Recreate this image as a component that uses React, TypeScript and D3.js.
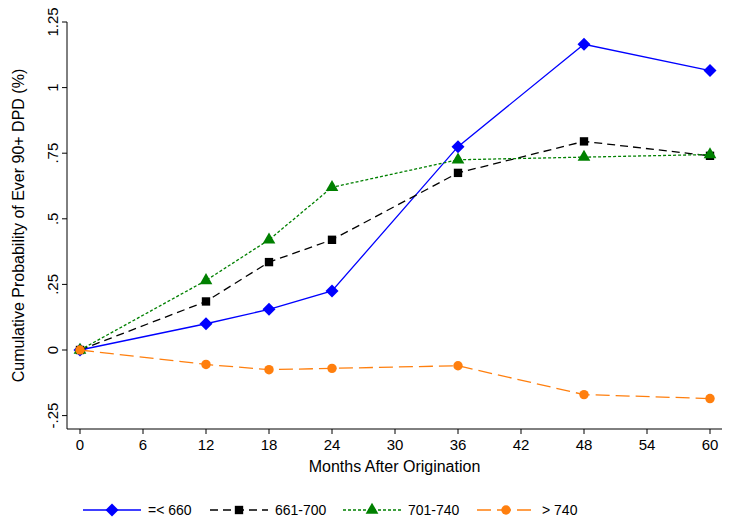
import * as d3 from "d3";

const months = [0, 12, 18, 24, 36, 48, 60];
const seriesNames = ["=< 660", "661-700", "701-740", "> 740"];
const s660 = [0, 0.1, 0.155, 0.225, 0.775, 1.165, 1.065];
const s700 = [0, 0.185, 0.335, 0.42, 0.675, 0.795, 0.74];
const s740 = [0, 0.265, 0.42, 0.62, 0.725, 0.735, 0.745];
const sOver = [0, -0.055, -0.075, -0.07, -0.06, -0.17, -0.185];
const xTicks = [0, 6, 12, 18, 24, 30, 36, 42, 48, 54, 60];
const yTicks = [-0.25, 0, 0.25, 0.5, 0.75, 1, 1.25];
const yLabels = ["-.25", "0", ".25", ".5", ".75", "1", "1.25"];

const colors = ["#0000ff", "#000000", "#008000", "#ff7f0e"];
const dashes = ["", "8,5", "3,2", "14,6"];
const markers = ["diamond", "square", "triangle", "circle"];
const allSeries = [s660, s700, s740, sOver];

function Marker({ type, x, y, color }: { type: string; x: number; y: number; color: string }) {
  if (type === "diamond") {
    return <path d="M0,-6.5L6.5,0L0,6.5L-6.5,0Z" transform={`translate(${x},${y})`} fill={color} />;
  }
  const sym = type === "square" ? d3.symbolSquare : type === "triangle" ? d3.symbolTriangle : d3.symbolCircle;
  return <path d={d3.symbol(sym, 70)() as string} transform={`translate(${x},${y})`} fill={color} />;
}

export default function App() {
  const x = d3.scaleLinear().domain([0, 60]).range([80, 710]);
  const y = d3.scaleLinear().domain([0, 1.25]).range([350, 22]);
  const left = 67, bottom = 429;
  const line = d3.line<number>().x((_, i) => x(months[i])).y((d) => y(d));
  const font = "Liberation Sans, Arial, sans-serif";
  const legX = [83, 210, 343, 477];

  return (
    <svg width={732} height={520} style={{ position: "absolute", left: 0, top: 0, fontFamily: font }}>
      <rect width={732} height={520} fill="#fff" />
      <line x1={left} x2={left} y1={y(1.25)} y2={bottom} stroke="#000" />
      <line x1={left} x2={722} y1={bottom} y2={bottom} stroke="#000" />
      {yTicks.map((t, i) => (
        <g key={t}>
          <line x1={left - 5} x2={left} y1={y(t)} y2={y(t)} stroke="#000" />
          <text transform={`translate(${left - 9},${y(t)}) rotate(-90)`} textAnchor="middle" fontSize={15}>
            {yLabels[i]}
          </text>
        </g>
      ))}
      {xTicks.map((t) => (
        <g key={t}>
          <line x1={x(t)} x2={x(t)} y1={bottom} y2={bottom + 5} stroke="#000" />
          <text x={x(t)} y={bottom + 21} textAnchor="middle" fontSize={15}>{t}</text>
        </g>
      ))}
      <text x={(left + 722) / 2} y={472} textAnchor="middle" fontSize={16}>Months After Origination</text>
      <text transform={`translate(24,${(22 + bottom) / 2}) rotate(-90)`} textAnchor="middle" fontSize={16}>
        Cumulative Probability of Ever 90+ DPD (%)
      </text>
      {allSeries.map((s, k) => (
        <g key={k}>
          <path d={line(s) as string} fill="none" stroke={colors[k]} strokeWidth={1.3} strokeDasharray={dashes[k]} />
          {s.map((v, i) => (
            <Marker key={i} type={markers[k]} x={x(months[i])} y={y(v)} color={colors[k]} />
          ))}
        </g>
      ))}
      {seriesNames.map((n, k) => (
        <g key={n}>
          <line x1={legX[k]} x2={legX[k] + 58} y1={510} y2={510} stroke={colors[k]} strokeWidth={1.3} strokeDasharray={dashes[k]} />
          <Marker type={markers[k]} x={legX[k] + 29} y={510} color={colors[k]} />
          <text x={legX[k] + 65} y={515} fontSize={14}>{n}</text>
        </g>
      ))}
    </svg>
  );
}
